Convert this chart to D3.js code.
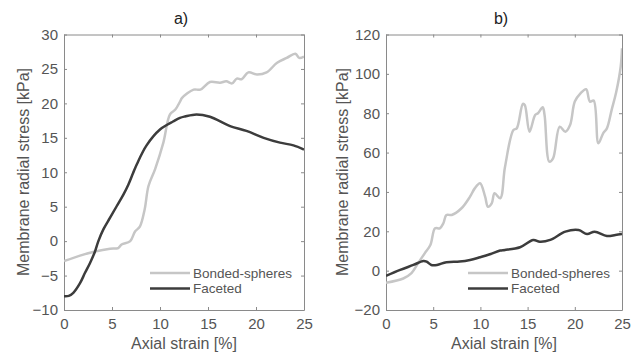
<!DOCTYPE html>
<html>
<head>
<meta charset="utf-8">
<script src="https://cdn.jsdelivr.net/npm/d3@7"></script>
<style>
  body { margin: 0; background: #fff; }
  svg text { font-family: Arial, "Liberation Sans", sans-serif; fill: #555; }
</style>
</head>
<body>
<div id="chart"></div>
<script>
// ---- data (x = axial strain %, y = kPa) ----
var aBondedX = [0, 1.67, 3.23, 4.8, 5.65, 6.0, 6.9, 7.4, 7.9, 8.4, 8.8, 9.5, 10.35, 11.04, 11.6, 12.1, 12.3, 13.5, 14.2, 15.2, 16.25, 16.9, 17.5, 18.0, 18.5, 19.2, 20.1, 21.1, 22.2, 23.2, 24.1, 24.5, 25];
var aBondedY = [-2.9, -2.1, -1.5, -1.1, -1.0, -0.5, 0.0, 1.4, 2.1, 4.6, 8.0, 10.5, 14.3, 18.4, 19.1, 20.3, 20.8, 22.0, 22.0, 23.1, 23.0, 23.2, 22.9, 23.6, 23.5, 24.5, 24.2, 24.5, 25.9, 26.6, 27.2, 26.6, 26.8];
var aFacetX = [0, 0.5, 0.97, 1.67, 2.19, 2.7, 3.23, 3.58, 4.1, 4.8, 5.5, 6.2, 6.7, 7.2, 7.6, 8.6, 10.0, 11.4, 12.08, 12.6, 13.8, 15.2, 17.3, 19.0, 20.8, 22.5, 23.9, 25];
var aFacetY = [-8.0, -7.95, -7.5, -6.1, -4.6, -3.2, -1.5, 0, 1.7, 3.4, 5.1, 6.8, 8.2, 9.9, 11.2, 13.9, 16.2, 17.4, 17.9, 18.1, 18.4, 18.05, 16.7, 16.0, 15.0, 14.3, 13.9, 13.3];

var bBondedX = [0, 1.83, 2.7, 3.4, 4.1, 4.7, 5.2, 5.7, 6.07, 6.4, 6.96, 8.0, 8.9, 9.4, 9.96, 10.5, 10.8, 11.2, 11.5, 12.1, 12.6, 13.5, 13.85, 14.5, 14.7, 15.2, 15.8, 16.1, 16.6, 16.8, 17.3, 17.7, 18.4, 19.0, 19.5, 20.0, 20.6, 21.2, 21.6, 22.0, 22.5, 23.0, 23.4, 23.9, 24.4, 24.86, 25];
var bBondedY = [-6.1, -4.0, -1.3, 3.8, 8.8, 13.0, 21.5, 21.5, 24, 28.3, 28.3, 31.7, 37.6, 41.8, 44.4, 37.6, 32.5, 34.2, 39.3, 36.8, 52.5, 71.5, 72.3, 84.7, 84.2, 70.6, 79.1, 80, 83, 79, 55.4, 57.1, 73.1, 70.6, 74, 85.9, 90.1, 92.2, 85.9, 86.4, 64.7, 69.8, 72.3, 81.6, 91, 103.6, 113];
var bFacetX = [0, 1.5, 2.9, 3.95, 4.3, 4.8, 5.4, 6.4, 7.8, 8.9, 9.96, 11.0, 12.1, 12.6, 14.2, 15.6, 16.3, 17.4, 19.0, 20.4, 21.3, 22.1, 23.4, 24.3, 25];
var bFacetY = [-2.7, 0.35, 2.9, 4.9, 4.6, 2.9, 2.9, 4.3, 4.6, 5.4, 6.8, 8.3, 10.2, 10.5, 11.9, 15.6, 14.7, 15.6, 19.8, 20.6, 18.6, 19.8, 17.6, 18.1, 18.6];

var xTicks = [0, 5, 10, 15, 20, 25];
var aYTicks = [-10, -5, 0, 5, 10, 15, 20, 25, 30];
var bYTicks = [-20, 0, 20, 40, 60, 80, 100, 120];
var seriesNames = ["Bonded-spheres", "Faceted"];

var W = 641, H = 355;
var lightCol = "#c6c6c6", darkCol = "#3c3c3c", axisCol = "#8a8a8a";

var svg = d3.select("#chart").append("svg")
  .attr("width", W).attr("height", H);

function zip(xs, ys) { return xs.map(function(v, i) { return [v, ys[i]]; }); }

function drawPanel(p) {
  var x = d3.scaleLinear().domain([0, 25]).range([p.left, p.right]);
  var y = d3.scaleLinear().domain(p.yDomain).range([310, 34.5]);
  var g = svg.append("g");

  g.append("clipPath").attr("id", "clip" + p.id)
    .append("rect").attr("x", p.left).attr("y", 34.5)
    .attr("width", p.right - p.left).attr("height", 310 - 34.5);

  // axes, matlab box with ticks pointing inward
  g.append("g").attr("transform", "translate(0,310)")
    .call(d3.axisBottom(x).tickValues(xTicks).tickSizeInner(-3).tickSizeOuter(0).tickPadding(8))
    .call(styleAxis);
  g.append("g").attr("transform", "translate(0,34.5)")
    .call(d3.axisTop(x).tickValues(xTicks).tickSizeInner(-3).tickSizeOuter(0).tickFormat(""))
    .call(styleAxis);
  g.append("g").attr("transform", "translate(" + p.left + ",0)")
    .call(d3.axisLeft(y).tickValues(p.yTicks).tickSizeInner(-3).tickSizeOuter(0).tickPadding(6))
    .call(styleAxis);
  g.append("g").attr("transform", "translate(" + p.right + ",0)")
    .call(d3.axisRight(y).tickValues(p.yTicks).tickSizeInner(-3).tickSizeOuter(0).tickFormat(""))
    .call(styleAxis);

  var line = d3.line().x(function(d) { return x(d[0]); }).y(function(d) { return y(d[1]); })
    .curve(d3.curveCatmullRom.alpha(0.5));

  var lines = g.append("g").attr("clip-path", "url(#clip" + p.id + ")");
  lines.append("path").datum(zip(p.bx, p.by))
    .attr("fill", "none").attr("stroke", lightCol).attr("stroke-width", 2.5).attr("d", line);
  lines.append("path").datum(zip(p.fx, p.fy))
    .attr("fill", "none").attr("stroke", darkCol).attr("stroke-width", 2.5).attr("d", line);

  // legend
  var cols = [lightCol, darkCol];
  seriesNames.forEach(function(name, i) {
    var ly = 273 + i * 15.5;
    g.append("line").attr("x1", p.legX).attr("x2", p.legX + 40)
      .attr("y1", ly).attr("y2", ly).attr("stroke", cols[i]).attr("stroke-width", 2.5);
    g.append("text").attr("x", p.legX + 43).attr("y", ly).attr("dy", "0.35em")
      .style("font-size", "13.5px").text(name);
  });

  // titles and labels
  g.append("text").attr("x", (p.left + p.right) / 2 - 3).attr("y", 24)
    .attr("text-anchor", "middle").style("font-size", "16px").style("fill", "#222").text(p.title);
  g.append("text").attr("x", (p.left + p.right) / 2).attr("y", 349)
    .attr("text-anchor", "middle").style("font-size", "16px").text("Axial strain [%]");
  g.append("text").attr("transform", "translate(" + p.yLabX + ",172) rotate(-90)")
    .attr("text-anchor", "middle").attr("dy", "0.35em").style("font-size", "16px")
    .text("Membrane radial stress [kPa]");
}

function styleAxis(sel) {
  sel.select(".domain").attr("stroke", axisCol);
  sel.selectAll(".tick line").attr("stroke", axisCol);
  sel.selectAll(".tick text").style("font-size", "15px").attr("fill", "#555");
}

drawPanel({ id: "a", left: 64, right: 304, yDomain: [-10, 30], yTicks: aYTicks,
  bx: aBondedX, by: aBondedY, fx: aFacetX, fy: aFacetY, legX: 150, title: "a)", yLabX: 23 });
drawPanel({ id: "b", left: 386, right: 622, yDomain: [-20, 120], yTicks: bYTicks,
  bx: bBondedX, by: bBondedY, fx: bFacetX, fy: bFacetY, legX: 468, title: "b)", yLabX: 342 });
</script>
</body>
</html>
